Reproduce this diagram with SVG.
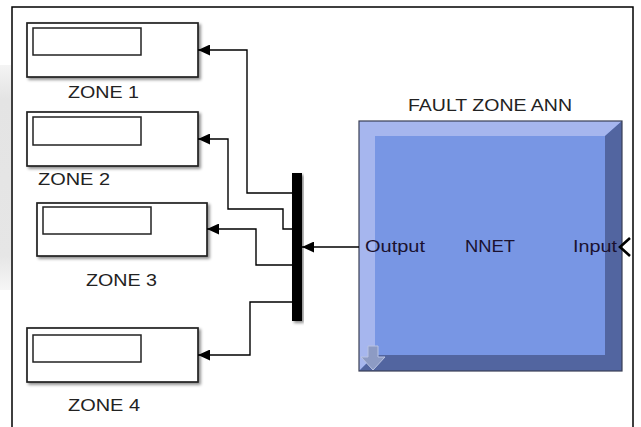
<svg xmlns="http://www.w3.org/2000/svg" width="641" height="427" viewBox="0 0 641 427">
<defs>
<linearGradient id="leftfade" x1="0" y1="0" x2="0" y2="1">
<stop offset="0" stop-color="#f4f4f4"/>
<stop offset="0.15" stop-color="#e4e4e4"/>
<stop offset="0.85" stop-color="#e6e6e6"/>
<stop offset="1" stop-color="#f6f6f6"/>
</linearGradient>
<filter id="sh" x="-10%" y="-10%" width="130%" height="130%">
<feDropShadow dx="2" dy="2" stdDeviation="1.5" flood-color="#000" flood-opacity="0.45"/>
</filter>
<marker id="ah" markerWidth="12" markerHeight="11" refX="12" refY="5.5" orient="auto" markerUnits="userSpaceOnUse">
<path d="M0,0 L12,5.5 L0,11 Z" fill="#000"/>
</marker>
<style>
.zone{fill:#fff;stroke:#222;stroke-width:1.7}
.inner{fill:#fff;stroke:#222;stroke-width:1.5}
.lbl{font-family:"Liberation Sans",Arial,sans-serif;font-size:16px;fill:#222}
.port{font-family:"Liberation Sans",Arial,sans-serif;font-size:16px;fill:#1b1230}
.wire{fill:none;stroke:#000;stroke-width:1.4}
</style>
</defs>
<rect x="0" y="0" width="641" height="427" fill="#fff"/>
<rect x="0" y="65" width="11" height="225" fill="url(#leftfade)"/>
<path d="M12,427 L12,7 L633,7 L633,427" fill="none" stroke="#000" stroke-width="1.5"/>

<g id="zone1">
<rect class="zone" x="27" y="23" width="171" height="54" filter="url(#sh)"/>
<rect class="inner" x="33" y="28" width="108" height="27"/>
<text class="lbl" x="68" y="98" textLength="71" lengthAdjust="spacingAndGlyphs">ZONE 1</text>
</g>
<g id="zone2">
<rect class="zone" x="27" y="112" width="171" height="54" filter="url(#sh)"/>
<rect class="inner" x="33" y="117" width="108" height="28"/>
<text class="lbl" x="38" y="185" textLength="72" lengthAdjust="spacingAndGlyphs">ZONE 2</text>
</g>
<g id="zone3">
<rect class="zone" x="37" y="203" width="170" height="53" filter="url(#sh)"/>
<rect class="inner" x="43" y="207" width="108" height="27"/>
<text class="lbl" x="86" y="286" textLength="71" lengthAdjust="spacingAndGlyphs">ZONE 3</text>
</g>
<g id="zone4">
<rect class="zone" x="27" y="328" width="171" height="54" filter="url(#sh)"/>
<rect class="inner" x="33" y="335" width="108" height="27"/>
<text class="lbl" x="68" y="411" textLength="72" lengthAdjust="spacingAndGlyphs">ZONE 4</text>
</g>

<g id="bus">
<rect x="292" y="173" width="10" height="148" fill="#000" filter="url(#sh)"/>
</g>

<g id="nnet">
<text class="lbl" x="408" y="111" textLength="164" lengthAdjust="spacingAndGlyphs">FAULT ZONE ANN</text>
<rect x="359" y="121" width="263" height="250" fill="#7896e4"/>
<polygon points="359,121 622,121 605,136 375,136 375,355 359,371" fill="#a6b6ee"/>
<polygon points="622,121 622,371 359,371 375,355 605,355 605,136" fill="#5265a0"/>
<rect x="375" y="136" width="230" height="219" fill="#7896e4"/>
<rect x="359" y="121" width="263" height="250" fill="none" stroke="#3a3f55" stroke-width="1.2"/>
<polygon points="368,346 378,346 378,357 385,357 373,370 361,357 368,357" fill="#8d9bc4" stroke="#b9c3e2" stroke-width="1"/>
<text class="port" x="365" y="252" textLength="60" lengthAdjust="spacingAndGlyphs">Output</text>
<text class="port" x="465" y="252" textLength="50" lengthAdjust="spacingAndGlyphs">NNET</text>
<text class="port" x="573" y="252" textLength="44" lengthAdjust="spacingAndGlyphs">Input</text>
<path d="M630,238 L620,247 L630,256" fill="none" stroke="#000" stroke-width="2.6"/>
</g>

<g id="connectors">
<path class="wire" d="M292,193 L247,193 L247,50 L198,50" marker-end="url(#ah)"/>
<path class="wire" d="M292,229 L283,229 L283,209 L228,209 L228,139 L198,139" marker-end="url(#ah)"/>
<path class="wire" d="M292,265 L256,265 L256,229 L207,229" marker-end="url(#ah)"/>
<path class="wire" d="M292,302 L250,302 L250,355 L198,355" marker-end="url(#ah)"/>
<path class="wire" d="M359,247 L302,247" marker-end="url(#ah)"/>
</g>
</svg>
